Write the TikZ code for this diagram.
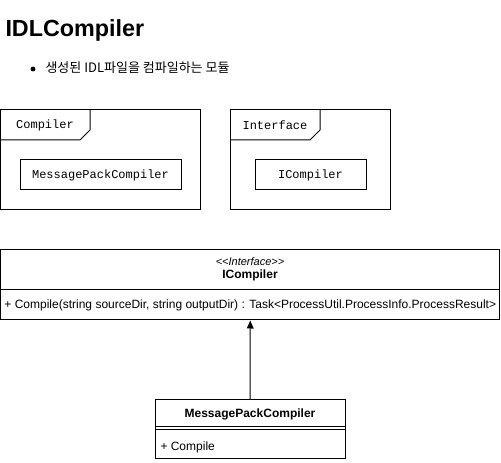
\documentclass[tikz,border=0pt]{standalone}
\usepackage{fontspec}
\setmainfont{Liberation Sans}
\setmonofont{Liberation Mono}
\newfontfamily\krfont{Noto Sans CJK KR}
\usetikzlibrary{arrows.meta}
\begin{document}
\begin{tikzpicture}[x=0.75pt,y=-0.75pt,line width=0.75pt,
  pkgtext/.style={font=\ttfamily\fontsize{9}{11}\selectfont},
  pkgcls/.style={draw,pkgtext,minimum height=22.5pt,inner sep=0pt},
  umltext/.style={font=\fontsize{9}{11}\selectfont}]
\useasboundingbox (0,0) rectangle (501,463);
\node[anchor=base west,inner sep=0pt,font=\bfseries\fontsize{17.5}{20}\selectfont] (title) at (5,37) {IDLCompiler};
\fill (33,69) circle (2.4);
\node[anchor=base west,inner sep=0pt,font=\krfont\fontsize{9.75}{12}\selectfont] (desc) at (45,73) {생성된 IDL파일을 컴파일하는 모듈};
% packages
\draw (0.5,110) rectangle (200,210);
\draw (0.5,140) -- (80,140) -- (90,130) -- (90,110);		%tab
\node[pkgtext] (pkgcompiler) at (45,125) {Compiler};
\node[pkgcls,minimum width=120.75pt] (pkgmpc) at (100.5,175) {MessagePackCompiler};
\draw (230,110) rectangle (390,210);
\draw (230,140) -- (310,140) -- (320,130) -- (320,110);		%tab
\node[pkgtext] (pkginterface) at (275,125) {Interface};
\node[pkgcls,minimum width=83.25pt] (pkgicomp) at (310.5,175) {ICompiler};
% classes
\node[draw,minimum width=374.6pt,minimum height=52.5pt,inner sep=0pt] (icomp) at (250.25,285) {};
\draw (0.5,290) -- (500,290);
\node[font=\itshape\fontsize{8.25}{10}\selectfont] (stereo) at (250,261.5) {<{}<Interface>{}>};
\node[umltext,font=\bfseries\fontsize{9}{11}\selectfont] (icompname) at (250,275) {ICompiler};
\node[umltext,anchor=west,inner sep=0pt] (icompop) at (4,305) {+ Compile(string sourceDir, string outputDir) : Task<ProcessUtil.ProcessInfo.ProcessResult>};
\node[draw,minimum width=142.5pt,minimum height=44.25pt,inner sep=0pt] (mpc) at (250,429.5) {};
\draw (155,427) -- (345,427);
\draw (155,430) -- (345,430);
\node[umltext,font=\bfseries\fontsize{9}{11}\selectfont] (mpcname) at (250,414.5) {MessagePackCompiler};
\node[umltext,anchor=west,inner sep=0pt] (mpcop) at (160,447.5) {+ Compile};
\draw[-{Triangle[length=6pt,width=5pt]}] (mpc.north) -- (icomp.south);
\end{tikzpicture}
\end{document}
